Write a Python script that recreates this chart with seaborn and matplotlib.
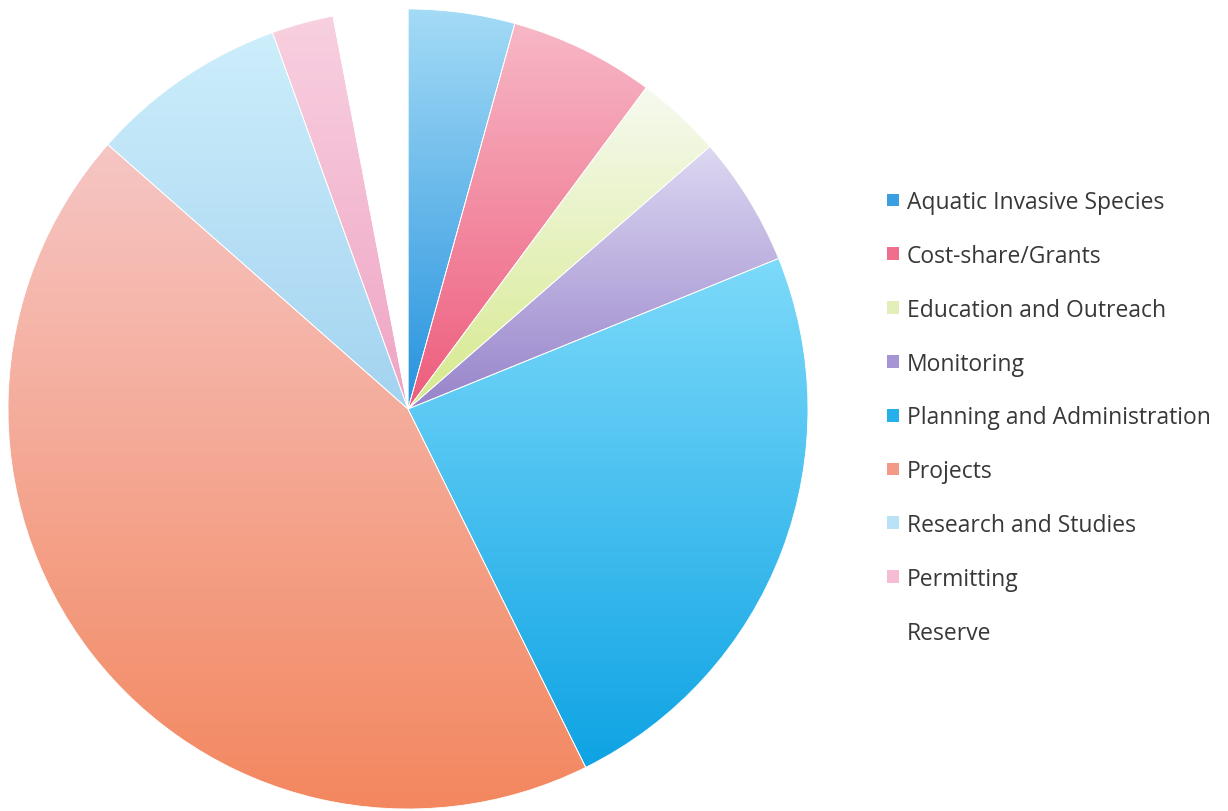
import numpy as np
import matplotlib
matplotlib.use("Agg")
import matplotlib.pyplot as plt
import matplotlib.colors as mcolors
from matplotlib.patches import Patch
import seaborn as sns

categories = ["Aquatic Invasive Species", "Cost-share/Grants", "Education and Outreach",
              "Monitoring", "Planning and Administration", "Projects",
              "Research and Studies", "Permitting", "Reserve"]
shares = [4.3, 5.85, 3.45, 5.25, 23.8, 43.8, 8.0, 2.5, 3.0]

top_colors = ["#a4dbf6", "#f7b8c6", "#f6faf0", "#ddd8f2", "#7ddafa", "#f6c6c4", "#cdeefb", "#f8d0e0", "#ffffff"]
bottom_colors = ["#2592de", "#ee5c7c", "#d6e98c", "#9783ca", "#0ea3e4", "#f3875f", "#a3d3f0", "#efa4c4", "#ffffff"]
legend_colors = ["#3a9fe0", "#ef6e8c", "#e3efb8", "#a595d4", "#25b0ea", "#f39a86", "#b9e2f6", "#f5bcd4", "#ffffff"]

sns.set_theme(style="white")
plt.rcParams["font.family"] = ["Open Sans", "DejaVu Sans"]

fig = plt.figure(figsize=(12.28, 8.12), dpi=100)
ax = fig.add_axes([8 / 1228, 2 / 812, 800 / 1228, 800 / 812])
wedges, _ = ax.pie(shares, startangle=90, counterclock=False, radius=1.0,
                   colors=legend_colors,
                   wedgeprops=dict(edgecolor="white", linewidth=0.6))

for w, c0, c1 in zip(wedges, top_colors, bottom_colors):
    t1, t2 = sorted([w.theta1, w.theta2])
    th = np.radians(np.linspace(t1, t2, 100))
    xs = np.concatenate([[0], np.cos(th)])
    ys = np.concatenate([[0], np.sin(th)])
    cmap = mcolors.LinearSegmentedColormap.from_list("g", [c1, c0])
    grad = np.linspace(0, 1, 256).reshape(-1, 1)
    im = ax.imshow(grad, cmap=cmap, origin="lower", aspect="auto",
                   extent=[xs.min(), xs.max(), ys.min(), ys.max()], zorder=w.get_zorder())
    im.set_clip_path(w)
    w.set_facecolor("none")
    w.set_zorder(w.get_zorder() + 1)

ax.set_xlim(-1, 1)
ax.set_ylim(-1, 1)
ax.set_aspect("equal")
ax.axis("off")

handles = [Patch(facecolor=c, edgecolor="none") for c in legend_colors]
fig.legend(handles, categories, loc="upper left", bbox_to_anchor=(878 / 1228, 1 - 182 / 812),
           frameon=False, fontsize=16.5, handlelength=0.52, handleheight=0.48,
           handletextpad=0.35, labelspacing=1.30, labelcolor="#383838", borderaxespad=0)

fig.savefig("out.png", dpi=100, facecolor="white")
